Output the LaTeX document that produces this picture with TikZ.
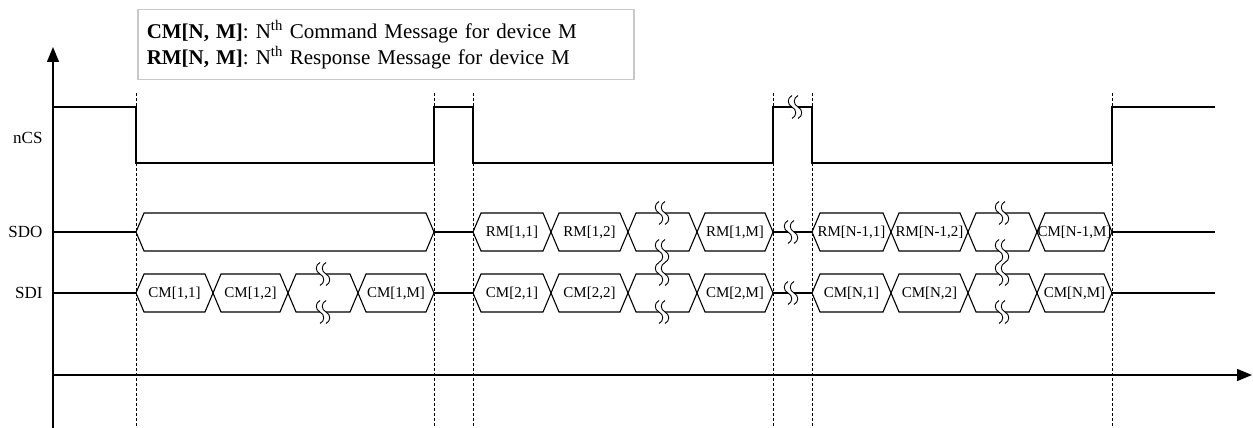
\documentclass[tikz,border=0pt]{standalone}
\usepackage{fontspec}
\setmainfont{Liberation Serif}
\usetikzlibrary{arrows.meta}
\definecolor{legendgray}{HTML}{C8C8C8}

\begin{document}
\begin{tikzpicture}[x=1pt, y=-1pt, >={Triangle[length=15pt, width=12pt]},
  axis/.style={line width=1.4pt},
  wave/.style={line width=1.1pt},
  guide/.style={line width=0.5pt, dash pattern=on 3pt off 2pt},
  brkline/.style={line width=0.9pt},
  cell/.style={font=\fontsize{15}{15}\selectfont, inner sep=0pt},
  sig/.style={font=\fontsize{17}{17}\selectfont, anchor=east}]

\useasboundingbox (0,0) rectangle (1253,428);

% Legend
\node[draw=legendgray, line width=1.5pt, anchor=north west, align=left,
      text width=478pt, minimum height=70pt, inner xsep=9pt,
      font=\fontsize{21}{26}\selectfont] (legend) at (137,9)
  {\textbf{CM[N, M]}: N\textsuperscript{th} Command Message for device M\\
   \textbf{RM[N, M]}: N\textsuperscript{th} Response Message for device M};

% Guides
\foreach \gx in {136,434,473,773,812,1112}
  \draw[guide] (\gx,93) -- (\gx,428);

% Axes
\draw[axis,->] (53,428) -- (53,47);
\draw[axis,->] (53,375) -- (1252,375);

% Signal names
\node[sig] (ncs) at (46,138) {nCS};
\node[sig] (sdo) at (46,232) {SDO};
\node[sig] (sdi) at (46,293) {SDI};

% nCS
\draw[wave] (53,107) -- (136,107) -- (136,163) -- (434,163) -- (434,107)
  -- (473,107) -- (473,163) -- (773,163) -- (773,107) -- (812,107)
  -- (812,163) -- (1112,163) -- (1112,107) -- (1215,107);

% Idle lines
\foreach \y in {232,293} {
  \draw[wave] (53,\y) -- (136,\y);
  \draw[wave] (434,\y) -- (473,\y);
  \draw[wave] (773,\y) -- (812,\y);
  \draw[wave] (1112,\y) -- (1215,\y);
}

% Bus cells
\foreach \a/\b/\y in {136/434/232,
    473/551/232, 551/628/232, 628/697/232, 697/773/232,
    812/891/232, 891/968/232, 968/1037/232, 1037/1112/232,
    136/213/293, 213/288/293, 288/358/293, 358/434/293,
    473/551/293, 551/628/293, 628/697/293, 697/773/293,
    812/891/293, 891/968/293, 968/1037/293, 1037/1112/293}
  \draw[wave] (\a,\y) -- (\a+8,\y-19) -- (\b-8,\y-19) -- (\b,\y)
    -- (\b-8,\y+19) -- (\a+8,\y+19) -- cycle;

% Cell labels
\foreach \a/\b/\y/\txt/\nm in {
    473/551/232/{RM[1,1]}/rm11, 551/628/232/{RM[1,2]}/rm12,
    697/773/232/{RM[1,M]}/rm1m,
    812/891/232/{RM[N-1,1]}/rmn1, 891/968/232/{RM[N-1,2]}/rmn2,
    1037/1112/232/{CM[N-1,M]}/cmnm1,
    136/213/293/{CM[1,1]}/cm11, 213/288/293/{CM[1,2]}/cm12,
    358/434/293/{CM[1,M]}/cm1m,
    473/551/293/{CM[2,1]}/cm21, 551/628/293/{CM[2,2]}/cm22,
    697/773/293/{CM[2,M]}/cm2m,
    812/891/293/{CM[N,1]}/cmn1, 891/968/293/{CM[N,2]}/cmn2,
    1037/1112/293/{CM[N,M]}/cmnm}
  \node[cell] (\nm) at ({(\a+\b)/2},\y) {\txt};

% Break marks
\foreach \bx/\by in {323/274, 323/312,
    662/213, 662/251, 662/274, 662/312,
    1002/213, 1002/251, 1002/274, 1002/312,
    791/232, 791/293, 795/107} {
  \begin{scope}[shift={(\bx,\by)}]
    \fill[white] (-3,-11.5) .. controls (-8,-9) and (-8,-2.5) .. (-3,0)
      .. controls (2,2.5) and (2,9) .. (-3,11.5) -- (3,11.5)
      .. controls (8,9) and (8,2.5) .. (3,0)
      .. controls (-2,-2.5) and (-2,-9) .. (3,-11.5) -- cycle;
    \foreach \d in {-3,3}
      \draw[brkline] (\d,-11.5) .. controls (\d-5,-9) and (\d-5,-2.5) .. (\d,0)
        .. controls (\d+5,2.5) and (\d+5,9) .. (\d,11.5);
  \end{scope}
}

\end{tikzpicture}
\end{document}
